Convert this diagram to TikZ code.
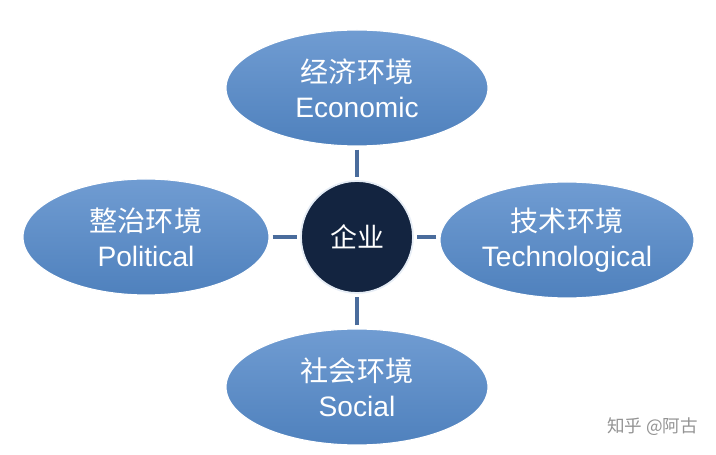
\documentclass[tikz,border=0pt]{standalone}
\usepackage{fontspec}
\setmainfont{Liberation Sans}
\newfontfamily\cjk{Noto Sans CJK SC}
\usetikzlibrary{positioning, shapes.geometric}
\definecolor{envblue}{RGB}{79,129,189}
\definecolor{envlight}{RGB}{112,156,210}
\definecolor{coreblue}{RGB}{19,36,64}
\definecolor{linkblue}{RGB}{74,108,156}
\tikzset{
  env/.style={ellipse, inner sep=0pt, minimum width=262\un, minimum height=116\un, top color=envlight, bottom color=envblue, draw=white, line width=1pt, text=white, align=center, font=\fontsize{24}{30}\selectfont},
  core/.style={circle, minimum size=112\un, fill=coreblue, draw=white!85!envblue, line width=1.5pt, text=white, font=\cjk\fontsize{23}{26}\selectfont},
  link/.style={draw=linkblue, line width=3pt, shorten <=3\un, shorten >=3\un}
}
\def\un{*0.03cm}
\begin{document}
\begin{tikzpicture}[x=0.03cm, y=-0.03cm]
  \useasboundingbox (0,0) rectangle (716,455);

  \node[core] (firm) at (357,237) {企业};
  \node[env] (econ) at (357,88) {{\cjk 经济环境}\\Economic};
  \node[env, minimum width=246\un] (poli) at (146,237) {{\cjk 整治环境}\\Political};
  \node[env, minimum width=254\un] (tech) at (567,240) {{\cjk 技术环境}\\Technological};
  \node[env] (soc) at (357,387) {{\cjk 社会环境}\\Social};

  % connectors
  \draw[link] (econ) -- (firm);
  \draw[link] (soc) -- (firm);
  \draw[link] (poli) -- (firm);
  \draw[link] (tech.west |- firm) -- (firm);

  \node[text=gray!85, font=\cjk\fontsize{15}{17}\selectfont, anchor=east] (mark) at (702,427) {知乎 @阿古};
\end{tikzpicture}
\end{document}
